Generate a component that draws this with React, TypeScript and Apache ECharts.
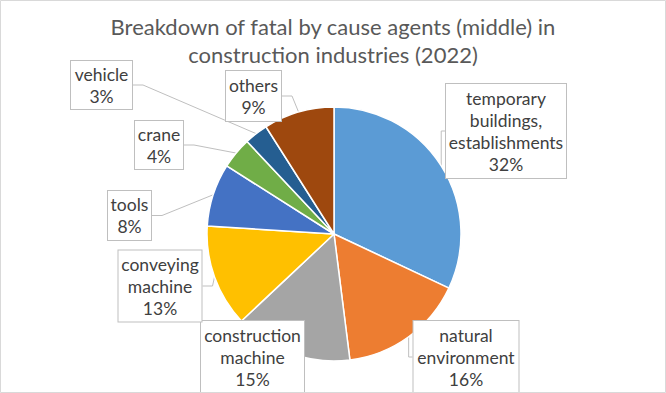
import React, { useEffect, useRef } from "react";
import * as echarts from "echarts";

const titleText = "Breakdown of fatal by cause agents (middle) in\nconstruction industries (2022)";
const categories = [
  "temporary\nbuildings,\nestablishments",
  "natural\nenvironment",
  "construction\nmachine",
  "conveying\nmachine",
  "tools",
  "crane",
  "vehicle",
  "others",
];
const shares = [32, 16, 15, 13, 8, 4, 3, 9];
const colors = ["#5B9BD5", "#ED7D31", "#A5A5A5", "#FFC000", "#4472C4", "#70AD47", "#255E91", "#9E480E"];

// label box layout (centre x, centre y, width, height) in px
const labelBoxes = [
  { cx: 506, cy: 131, w: 122, h: 96 },
  { cx: 466, cy: 357, w: 107, h: 74 },
  { cx: 252.5, cy: 357, w: 105, h: 74 },
  { cx: 160, cy: 286, w: 85, h: 73 },
  { cx: 129.5, cy: 215.5, w: 45, h: 51 },
  { cx: 159, cy: 145, w: 50, h: 50 },
  { cx: 101.5, cy: 85, w: 63, h: 50 },
  { cx: 253.5, cy: 96, w: 57, h: 52 },
];

export default function App() {
  const ref = useRef<HTMLDivElement>(null);
  useEffect(() => {
    document.body.style.margin = "0";
    const chart = echarts.init(ref.current!, null, { renderer: "svg" });
    const font = "Lato, 'Noto Sans', sans-serif";
    chart.setOption({
      animation: false,
      backgroundColor: "#ffffff",
      title: {
        text: titleText,
        left: "center",
        top: 7,
        textStyle: {
          fontFamily: font,
          fontSize: 22,
          fontWeight: "normal",
          color: "#595959",
          lineHeight: 28,
        },
      },
      graphic: [
        {
          type: "rect",
          shape: { x: 0.5, y: 0.5, width: 665, height: 392 },
          style: { fill: "none", stroke: "#d9d9d9", lineWidth: 1 },
          silent: true,
          z: 100,
        },
      ],
      series: [
        {
          type: "pie",
          center: [334, 234],
          radius: [0, 127],
          startAngle: 90,
          clockwise: true,
          itemStyle: { borderColor: "#ffffff", borderWidth: 1.5 },
          data: categories.map((name, i) => ({
            name,
            value: shares[i],
            itemStyle: { color: colors[i] },
            label: {
              width: labelBoxes[i].w - 2,
              height: labelBoxes[i].h - 2,
            },
          })),
          label: {
            show: true,
            position: "outside",
            formatter: (p: any) => `${p.name}\n${Math.round(p.percent)}%`,
            fontFamily: font,
            fontSize: 17.5,
            color: "#404040",
            lineHeight: 22,
            align: "center",
            verticalAlign: "middle",
            backgroundColor: "#ffffff",
            borderColor: "#bfbfbf",
            borderWidth: 1,
            padding: 0,
            overflow: "none",
          },
          labelLine: {
            show: true,
            length: 10,
            length2: 10,
            lineStyle: { color: "#bfbfbf", width: 1 },
          },
          labelLayout: (params: any) => {
            const b = labelBoxes[params.dataIndex];
            return { x: b.cx, y: b.cy, align: "center", verticalAlign: "middle" };
          },
        },
      ],
    });
    return () => chart.dispose();
  }, []);
  return <div ref={ref} style={{ width: 666, height: 393 }} />;
}
